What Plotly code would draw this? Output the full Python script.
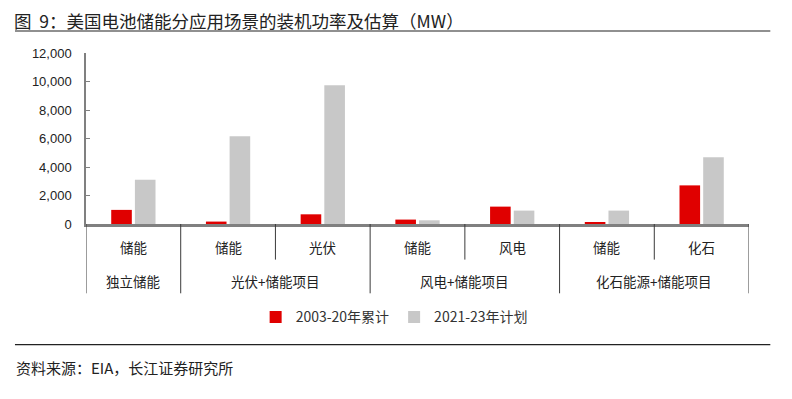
import plotly.graph_objects as go

outer = ["独立储能", "光伏+储能项目", "光伏+储能项目", "风电+储能项目", "风电+储能项目",
         "化石能源+储能项目", "化石能源+储能项目"]
inner = ["储能", "储能", "光伏", "储能", "风电", "储能", "化石"]
hist_2003_20 = [990, 170, 680, 310, 1220, 120, 2710]
plan_2021_23 = [3110, 6150, 9730, 260, 940, 940, 4680]
series_names = ["2003-20年累计", "2021-23年计划"]
ytick_vals = [0, 2000, 4000, 6000, 8000, 10000, 12000]
ytick_text = ["0", "2,000", "4,000", "6,000", "8,000", "10,000", "12,000"]

# page body has an 8px margin; figure sized so that it fills the 792x399 window exactly
OFF = 8
W, H = 792 - OFF, 399 - OFF
L, R, T, B = 78, 43.3, 44.7, 175.3
pw, ph = W - L - R, H - T - B


def sx(x):  # screen x -> paper
    return (x - OFF - L) / pw


def sy(y):  # screen y -> paper
    return (H - B - (y - OFF)) / ph


cjk = "Noto Sans CJK SC, Liberation Sans, sans-serif"
num = "Liberation Sans, Arial, sans-serif"

cats = [o + "|" + i for o, i in zip(outer, inner)]
n = len(cats)

fig = go.Figure()
fig.add_trace(go.Bar(x=cats, y=hist_2003_20, name=series_names[0],
                     marker=dict(color="#E00000", line=dict(width=0))))
fig.add_trace(go.Bar(x=cats, y=plan_2021_23, name=series_names[1],
                     marker=dict(color="#C8C8C8", line=dict(width=0))))

fig.update_layout(
    width=W, height=H,
    margin=dict(l=L, r=R, t=T, b=B, autoexpand=False),
    paper_bgcolor="white", plot_bgcolor="white",
    barmode="group", bargap=0.5, bargroupgap=0.13,
    showlegend=True,
    legend=dict(orientation="h", x=sx(394), xanchor="center", y=sy(317), yanchor="middle",
                font=dict(family=cjk, size=14, color="#333"),
                itemwidth=30, tracegroupgap=0, bgcolor="rgba(0,0,0,0)"),
    font=dict(family=cjk, size=13, color="#222"),
)

fig.update_xaxes(
    type="category", range=[-0.5, n - 0.5], automargin=False,
    showline=True, linecolor="#808080", linewidth=2.5,
    showticklabels=False, ticks="",
    showgrid=False, zeroline=False,
)
fig.update_yaxes(
    range=[0, 12000], tickvals=ytick_vals, ticktext=ytick_text, automargin=False,
    showline=True, linecolor="#808080", linewidth=1.5,
    ticks="inside", ticklen=4, tickcolor="#808080",
    ticklabelstandoff=10,
    tickfont=dict(family=num, size=13, color="#222"),
    showgrid=False, zeroline=False,
)

line_col = "#3a3a3a"
y_inner_end = sy(259.3)
y_outer_end = sy(293)

# inner (first-row) labels
for k, lab in enumerate(inner):
    fig.add_annotation(xref="x", yref="paper", x=k, y=sy(246.7), text=lab, showarrow=False,
                       xanchor="center", yanchor="middle",
                       font=dict(family=cjk, size=13.5, color="#222"))

# group spans from the outer list
groups = []
start = 0
for k in range(1, n + 1):
    if k == n or outer[k] != outer[start]:
        groups.append((outer[start], start, k - 1))
        start = k

group_bounds = set()
for name, a, b in groups:
    fig.add_annotation(xref="x", yref="paper", x=(a + b) / 2, y=sy(280.7), text=name, showarrow=False,
                       xanchor="center", yanchor="middle",
                       font=dict(family=cjk, size=13.5, color="#222"))
    group_bounds.add(a - 0.5)
    group_bounds.add(b + 0.5)

for k in range(n + 1):
    xb = k - 0.5
    y_end = y_outer_end if xb in group_bounds else y_inner_end
    fig.add_shape(type="line", xref="x", yref="paper", x0=xb, x1=xb, y0=0, y1=y_end,
                  line=dict(color=line_col, width=1))

# title
fig.add_annotation(xref="paper", yref="paper", x=sx(13), y=sy(20), xanchor="left", yanchor="middle",
                   text="图&nbsp;&nbsp;9：美国电池储能分应用场景的装机功率及估算（MW）", showarrow=False,
                   borderpad=0, font=dict(family=cjk, size=17.5, color="#222"))
# source
fig.add_annotation(xref="paper", yref="paper", x=sx(14), y=sy(367), xanchor="left", yanchor="middle",
                   text="资料来源：EIA，长江证券研究所", showarrow=False,
                   font=dict(family=cjk, size=15, color="#222"))
# rules
fig.add_shape(type="line", xref="paper", yref="paper", x0=sx(15), x1=sx(770), y0=sy(30.7), y1=sy(30.7),
              line=dict(color="#222", width=1.2))
fig.add_shape(type="line", xref="paper", yref="paper", x0=sx(15), x1=sx(770), y0=sy(344.3), y1=sy(344.3),
              line=dict(color="#222", width=1.2))
fig.add_shape(type="line", xref="paper", yref="paper", x0=sx(790), x1=sx(790), y0=sy(0), y1=sy(399),
              line=dict(color="#bbbbbb", width=1))

fig.write_html("out.html")
